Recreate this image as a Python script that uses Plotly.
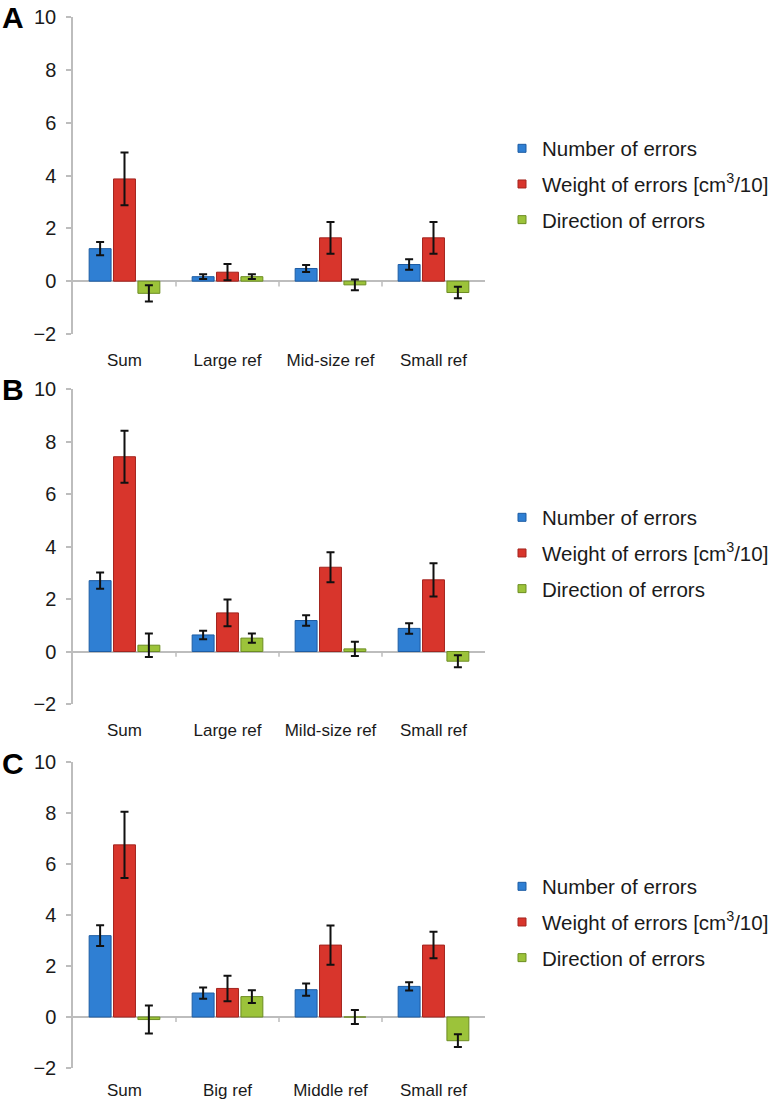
import plotly.graph_objects as go

# ---------------- data ----------------
series_names = ["Number of errors", "Weight of errors [cm<sup>3</sup>/10]", "Direction of errors"]

cats_A = ["Sum", "Large ref", "Mid-size ref", "Small ref"]
num_A = [1.23, 0.17, 0.48, 0.63]
num_err_A = [0.25, 0.09, 0.13, 0.20]
wt_A = [3.87, 0.34, 1.64, 1.64]
wt_err_A = [1.00, 0.31, 0.60, 0.60]
dir_A = [-0.46, 0.17, -0.14, -0.43]
dir_err_A = [0.31, 0.09, 0.20, 0.22]

cats_B = ["Sum", "Large ref", "Mild-size ref", "Small ref"]
num_B = [2.70, 0.63, 1.18, 0.88]
num_err_B = [0.31, 0.16, 0.20, 0.20]
wt_B = [7.42, 1.47, 3.21, 2.73]
wt_err_B = [0.99, 0.51, 0.57, 0.63]
dir_B = [0.24, 0.51, 0.10, -0.37]
dir_err_B = [0.45, 0.18, 0.27, 0.23]

cats_C = ["Sum", "Big ref", "Middle ref", "Small ref"]
num_C = [3.19, 0.94, 1.07, 1.20]
num_err_C = [0.41, 0.22, 0.24, 0.16]
wt_C = [6.75, 1.12, 2.82, 2.82]
wt_err_C = [1.30, 0.50, 0.77, 0.52]
dir_C = [-0.10, 0.80, 0.00, -0.93]
dir_err_C = [0.55, 0.25, 0.27, 0.25]

y_ticks = [-2, 0, 2, 4, 6, 8, 10]
panel_labels = ["A", "B", "C"]

# ---------------- style ----------------
FONT = "Liberation Sans, Arial, sans-serif"
fills = ["#2f7fd3", "#d8352c", "#9cc33a"]
edges = ["#1d5ca3", "#a3241e", "#6c8d22"]
AXIS_GREY = "#bdbdbd"
TEXT = "#1a1a1a"

W, H = 772, 1102
x_dom = [73 / W, 485 / W]
# pixel rows of the y=10 and y=-2 positions for each panel
panel_px = [(17, 334), (389, 704), (762, 1068)]
legend_center_px = [184, 553, 922]
label_standoff = [14, 14, 10]

panels = [
    (cats_A, [num_A, wt_A, dir_A], [num_err_A, wt_err_A, dir_err_A]),
    (cats_B, [num_B, wt_B, dir_B], [num_err_B, wt_err_B, dir_err_B]),
    (cats_C, [num_C, wt_C, dir_C], [num_err_C, wt_err_C, dir_err_C]),
]

fig = go.Figure()
layout = dict(
    width=W, height=H,
    margin=dict(l=0, r=0, t=0, b=0, autoexpand=False),
    paper_bgcolor="white", plot_bgcolor="white",
    barmode="group", bargap=0.29, bargroupgap=0.1,
    font=dict(family=FONT, color=TEXT),
    showlegend=True,
)
shapes = []
annotations = []

for p, (cats, vals, errs) in enumerate(panels):
    sfx = "" if p == 0 else str(p + 1)
    xa, ya = "x" + sfx, "y" + sfx
    leg = "legend" + sfx
    for s in range(3):
        fig.add_trace(go.Bar(
            x=cats, y=vals[s], xaxis=xa, yaxis=ya,
            marker=dict(color=fills[s], line=dict(color=edges[s], width=1)),
            error_y=dict(type="data", array=errs[s], color="#111111", thickness=2, width=4),
            showlegend=False, name=series_names[s],
        ))
    for s in range(3):
        fig.add_trace(go.Scatter(
            x=[None], y=[None], xaxis=xa, yaxis=ya, mode="markers",
            marker=dict(symbol="square", size=8, color=fills[s], line=dict(color=edges[s], width=1)),
            name=series_names[s], legend=leg, legendgroup=f"g{p}{s}",
        ))
    top_px, bot_px = panel_px[p]
    layout["xaxis" + sfx] = dict(
        domain=x_dom, anchor=ya, type="category", automargin=False,
        showline=False, showgrid=False, zeroline=False, ticks="",
        tickfont=dict(size=17, family=FONT, color=TEXT), ticklabelstandoff=label_standoff[p],
        range=[-0.5, len(cats) - 0.5],
    )
    layout["yaxis" + sfx] = dict(
        domain=[1 - bot_px / H, 1 - top_px / H], anchor=xa, automargin=False,
        range=[-2, 10], tickvals=y_ticks,
        ticktext=[("\u2212" + str(-v)) if v < 0 else str(v) for v in y_ticks],
        showline=True, linecolor=AXIS_GREY, linewidth=1.5,
        ticks="outside", ticklen=5, tickcolor=AXIS_GREY, tickwidth=1.5,
        showgrid=False, zeroline=True, zerolinecolor=AXIS_GREY, zerolinewidth=1.5,
        tickfont=dict(size=20, family=FONT, color=TEXT), ticklabelstandoff=6,
    )
    layout[leg] = dict(
        x=502 / W, xanchor="left", y=1 - legend_center_px[p] / H, yanchor="middle",
        font=dict(size=20.5, family=FONT, color=TEXT), bgcolor="rgba(0,0,0,0)",
        traceorder="grouped", tracegroupgap=6, itemclick=False,
    )
    # small category separator ticks on the zero line
    for i in range(len(cats) - 1):
        shapes.append(dict(type="line", xref=xa, yref=ya, x0=i + 0.5, x1=i + 0.5,
                           y0=0, y1=-0.2, line=dict(color=AXIS_GREY, width=1.5)))
    annotations.append(dict(
        text="<b>" + panel_labels[p] + "</b>", xref="paper", yref="paper",
        x=0, xanchor="left", y=1 - (top_px + 1) / H, yanchor="middle",
        showarrow=False, font=dict(size=30, family=FONT, color="#000000"),
    ))

layout["shapes"] = shapes
layout["annotations"] = annotations
fig.update_layout(**layout)
fig.write_html("out.html", config={"displayModeBar": False},
               post_script="document.body.style.margin='0';")
